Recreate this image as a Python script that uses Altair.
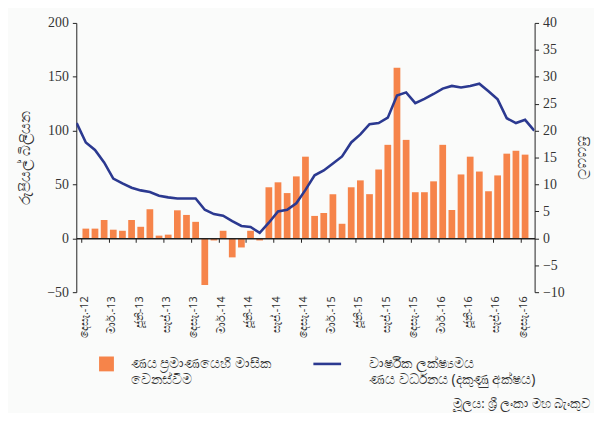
import altair as alt
import pandas as pd

# ---- data ----
tick_labels = ["දෙසැ.-12", "මාර්.-13", "ජූනි-13", "සැප්.-13", "දෙසැ.-13",
               "මාර්.-14", "ජූනි-14", "සැප්.-14", "දෙසැ.-14",
               "මාර්.-15", "ජූනි-15", "සැප්.-15", "දෙසැ.-15",
               "මාර්.-16", "ජූනි-16", "සැප්.-16", "දෙසැ.-16"]

# monthly change in credit (Rs. bn), Dec-12 .. Dec-16
monthly_change = [9, 9, 17, 8, 7, 17, 10.7, 27, 2.5, 3.4, 26, 21.7, 15.3,
                  -43.4, -2, 7, -17.7, -8.5, 7, -2, 47.4, 52, 42, 57.5,
                  75.8, 20.8, 23.5, 41, 13.5, 47.4, 53.8, 41, 63.9, 86.8,
                  158.4, 91.4, 42.8, 42.8, 52.9, 86.8, 26.3, 59.3, 75.8,
                  62, 43.7, 58.4, 78.6, 81.3, 77.7]

# year-on-year credit growth (%), Dec-12 .. Dec-16 (right axis)
yoy_growth = [17.8, 16.4, 14.1, 11.1, 10.2, 9.4, 8.9, 8.6, 7.9, 7.6, 7.4,
              7.4, 7.4, 5.3, 4.5, 4.2, 3.2, 2.3, 2.1, 1.0, 2.9, 5.0, 5.3,
              6.5, 9.0, 11.7, 12.6, 13.9, 15.2, 17.8, 19.3, 21.2, 21.4,
              22.4, 26.5, 27.1, 25.1, 25.9, 26.8, 27.8, 28.3, 28.0, 28.3,
              28.7, 27.3, 25.8, 22.3, 21.4, 22.0]
# the line continues just past both ends of the axis (clipped)
growth_before = 21.4
growth_after = 20.0

bar_name = "ණය ප්‍රමාණයෙහි මාසික|වෙනස්වීම"
line_name = "වාර්ෂික ලක්ෂ්‍යමය|ණය වර්ධනය (දකුණු අක්ෂය)"
left_title = "රුපියල් බිලියන"
right_title = "සියයට"
source_text = "මූලය: ශ්‍රී ලංකා මහ බැංකුව"

ORANGE = "#F6844A"
NAVY = "#2B3990"
W, H = 463, 272
SERIF = "Liberation Serif"
SANS = "Noto Sans"

bars_df = pd.DataFrame({"k": list(range(len(monthly_change))),
                        "change": monthly_change,
                        "series": bar_name})
growth_all = [growth_before] + yoy_growth + [growth_after]
line_df = pd.DataFrame({"k": list(range(-1, len(yoy_growth) + 1)),
                        "growth": growth_all,
                        "series": line_name})

label_array = "[" + ",".join("'" + l + "'" for l in tick_labels) + "]"

x_enc = alt.X("mid:Q",
              scale=alt.Scale(domain=[0, len(monthly_change)], nice=False, zero=False),
              axis=alt.Axis(values=list(range(0, len(monthly_change), 3)),
                            labelExpr=label_array + "[round(datum.value/3)]",
                            title=None, grid=False, offset=-54.4,
                            tickSize=4, tickColor="#222", domainColor="#222",
                            domainWidth=1.5, labelAngle=270, labelPadding=54,
                            labelOffset=3, labelFont=SANS, labelFontSize=11,
                            labelColor="#333", labelOverlap=False, zindex=1))

bars = alt.Chart(bars_df).transform_calculate(
    mid="datum.k + 0.5"
).mark_bar(size=6.8).encode(
    x=x_enc,
    y=alt.Y("change:Q",
            scale=alt.Scale(domain=[-50, 200], nice=False),
            axis=alt.Axis(values=[-50, 0, 50, 100, 150, 200], title=left_title,
                          grid=False, tickSize=4, tickColor="#222",
                          domainColor="#222", labelFont=SERIF, labelFontSize=14,
                          labelColor="#333", labelPadding=4,
                          titleFont=SANS, titleFontSize=15, titleFontWeight="normal",
                          titleColor="#333", titlePadding=14)),
    color=alt.Color("series:N",
                    scale=alt.Scale(domain=[bar_name], range=[ORANGE]),
                    legend=alt.Legend(orient="none", legendX=23, legendY=337,
                                      title=None, symbolType="square",
                                      symbolSize=225, symbolStrokeWidth=0,
                                      labelExpr="split(datum.label, '|')",
                                      labelFont=SANS, labelFontSize=14,
                                      labelColor="#333", labelOffset=17,
                                      labelLimit=300))
)

line = alt.Chart(line_df).transform_calculate(
    mid="datum.k + 0.5"
).mark_line(strokeWidth=2.6, clip=True).encode(
    x=x_enc,
    y=alt.Y("growth:Q",
            scale=alt.Scale(domain=[-10, 40], nice=False),
            axis=alt.Axis(orient="right", values=list(range(-10, 41, 5)),
                          title=right_title, grid=False, tickSize=4,
                          tickColor="#222", domainColor="#222",
                          labelFont=SERIF, labelFontSize=14, labelColor="#333",
                          labelPadding=4, titleFont=SANS, titleFontSize=15,
                          titleFontWeight="normal", titleColor="#333",
                          titlePadding=10)),
    stroke=alt.Stroke("series:N",
                      scale=alt.Scale(domain=[line_name], range=[NAVY]),
                      legend=alt.Legend(orient="none", legendX=238, legendY=329,
                                        title=None, symbolType="stroke",
                                        symbolSize=784, symbolStrokeWidth=2.6,
                                        labelExpr="split(datum.label, '|')",
                                        labelFont=SANS, labelFontSize=14,
                                        labelColor="#333", labelOffset=27,
                                        labelLimit=300))
)

src = alt.Chart(pd.DataFrame({"t": [source_text]})).mark_text(
    align="right", baseline="middle", font=SANS, fontSize=13, color="#333"
).encode(text="t:N", x=alt.value(W + 56), y=alt.value(H + 113))

topline = alt.Chart(pd.DataFrame({"a": [0]})).mark_rule(
    color="#2EC4D1", strokeWidth=2
).encode(x=alt.value(-69), x2=alt.value(W + 60), y=alt.value(-19))

chart = alt.layer(bars, line, src, topline).resolve_scale(
    y="independent", color="independent", stroke="independent"
).properties(
    width=W, height=H,
    autosize=alt.AutoSizeParams(type="none"),
    padding={"left": 69, "top": 13, "right": 60, "bottom": 120},
    background="#FAFBFA"
).configure_view(stroke=None)

chart.save("out.html", embed_options={"renderer": "svg", "actions": False})
